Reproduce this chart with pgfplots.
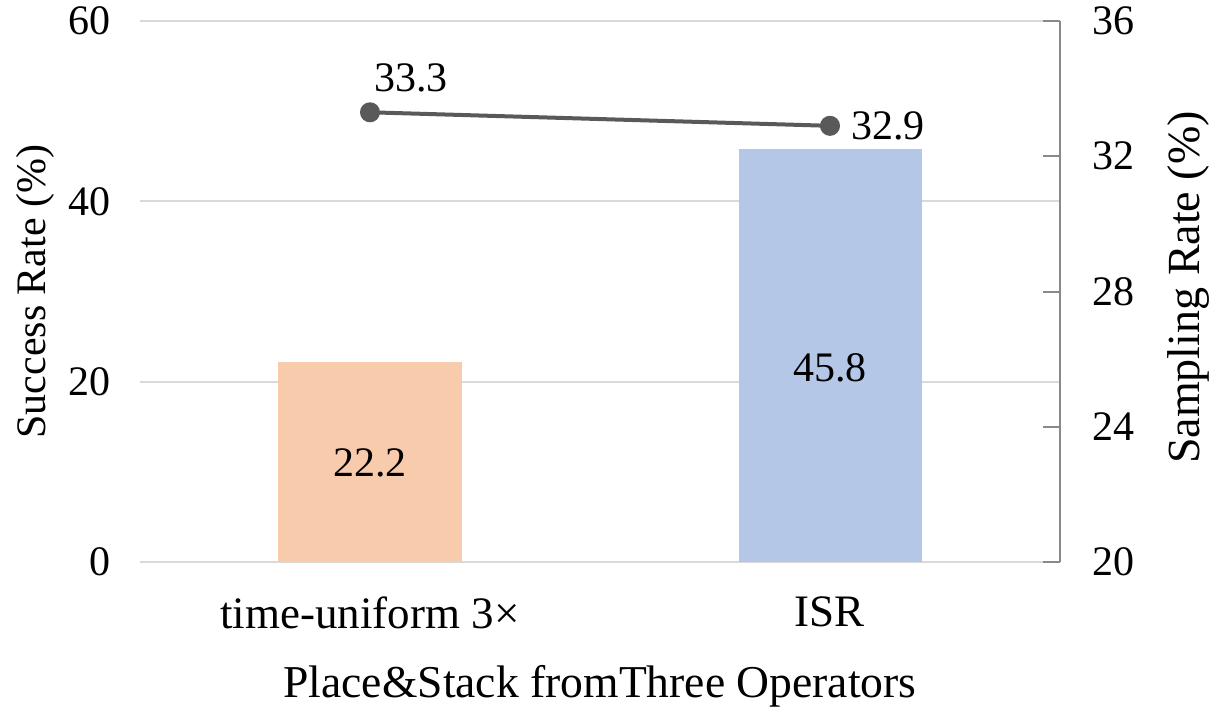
\documentclass[border=0pt]{standalone}
\usepackage{fontspec}
\setmainfont{Liberation Serif}
\usepackage{pgfplots}
\pgfplotsset{compat=1.18}
\definecolor{barorange}{HTML}{F8CBAD}
\definecolor{barblue}{HTML}{B4C7E7}
\definecolor{linegray}{HTML}{595959}
\definecolor{gridgray}{HTML}{D9D9D9}
\definecolor{axisgray}{HTML}{898989}
\begin{document}
\begin{tikzpicture}
\useasboundingbox (-70pt,-75.5pt) rectangle (538pt,281pt);
\pgfplotsset{every axis/.append style={
  scale only axis, width=460pt, height=270.5pt,
  xmin=-0.5, xmax=1.5,
  font=\fontsize{21}{25}\selectfont,
  /pgf/number format/assume math mode=true,
}}
\begin{axis}[
  at={(0,0)}, anchor=south west,
  ymin=0, ymax=60, ytick={0,20,40,60},
  ymajorgrids, grid style={draw=gridgray, line width=1pt},
  axis x line*=bottom, axis y line*=left,
  y axis line style={draw=none},
  x axis line style={draw=gridgray, line width=1pt, -},
  ytick style={draw=none}, major tick length=0pt,
  yticklabel style={inner sep=0pt, xshift=-14.5pt},
  xtick={0,1}, xticklabels={time-uniform 3×, ISR},
  xticklabel style={inner sep=0pt, yshift=-17pt, font=\fontsize{22.5}{26}\selectfont},
  xtick style={draw=none},
  extra x ticks={-0.5,0.5,1.5}, extra x tick labels={},
  extra x tick style={major tick length=7.5pt, tick align=outside, tick style={draw=gridgray, line width=1pt}},
  xlabel={Place\&Stack fromThree Operators},
  xlabel style={inner sep=0pt, at={(rel axis cs:0.5,0)}, anchor=center, yshift=-62pt, font=\fontsize{22.8}{26}\selectfont},
  ylabel={Success Rate (\%)},
  ylabel style={inner sep=0pt, at={(rel axis cs:0,0.5)}, anchor=center, yshift=52.5pt},
]
\addplot[ybar, bar width=91.5pt, bar shift=0pt, fill=barorange, draw=none] coordinates {(0,22.2)};
\addplot[ybar, bar width=91.5pt, bar shift=0pt, fill=barblue, draw=none] coordinates {(1,45.8)};
\addplot[draw=none, nodes near coords, point meta=explicit symbolic, nodes near coords style={anchor=center}] coordinates {(0,11.0)[22.2] (1,21.5)[45.8]};
\end{axis}
\begin{axis}[
  at={(0,0)}, anchor=south west,
  ymin=20, ymax=36, ytick={20,24,28,32,36},
  axis y line*=right, axis x line=none,
  y axis line style={draw=axisgray, line width=1pt, -},
  ytick style={draw=axisgray, line width=1pt},
  tick align=inside, major tick length=8.5pt,
  yticklabel style={inner sep=0pt, xshift=16pt},
  ylabel={Sampling Rate (\%)},
  ylabel style={inner sep=0pt, at={(rel axis cs:1,0.5)}, anchor=center, yshift=-64pt, xshift=2pt, font=\fontsize{23}{27}\selectfont},
]
\addplot[linegray, line width=2pt, mark=*, mark size=4pt] coordinates {(0,33.3) (1,32.9)};
\addplot[draw=none, nodes near coords, point meta=explicit symbolic, nodes near coords style={anchor=center, xshift=20.5pt, yshift=17pt}] coordinates {(0,33.3)[33.3]};
\addplot[draw=none, nodes near coords, point meta=explicit symbolic, nodes near coords style={anchor=west, xshift=7pt, yshift=0pt}] coordinates {(1,32.9)[32.9]};
\end{axis}
\end{tikzpicture}
\end{document}
